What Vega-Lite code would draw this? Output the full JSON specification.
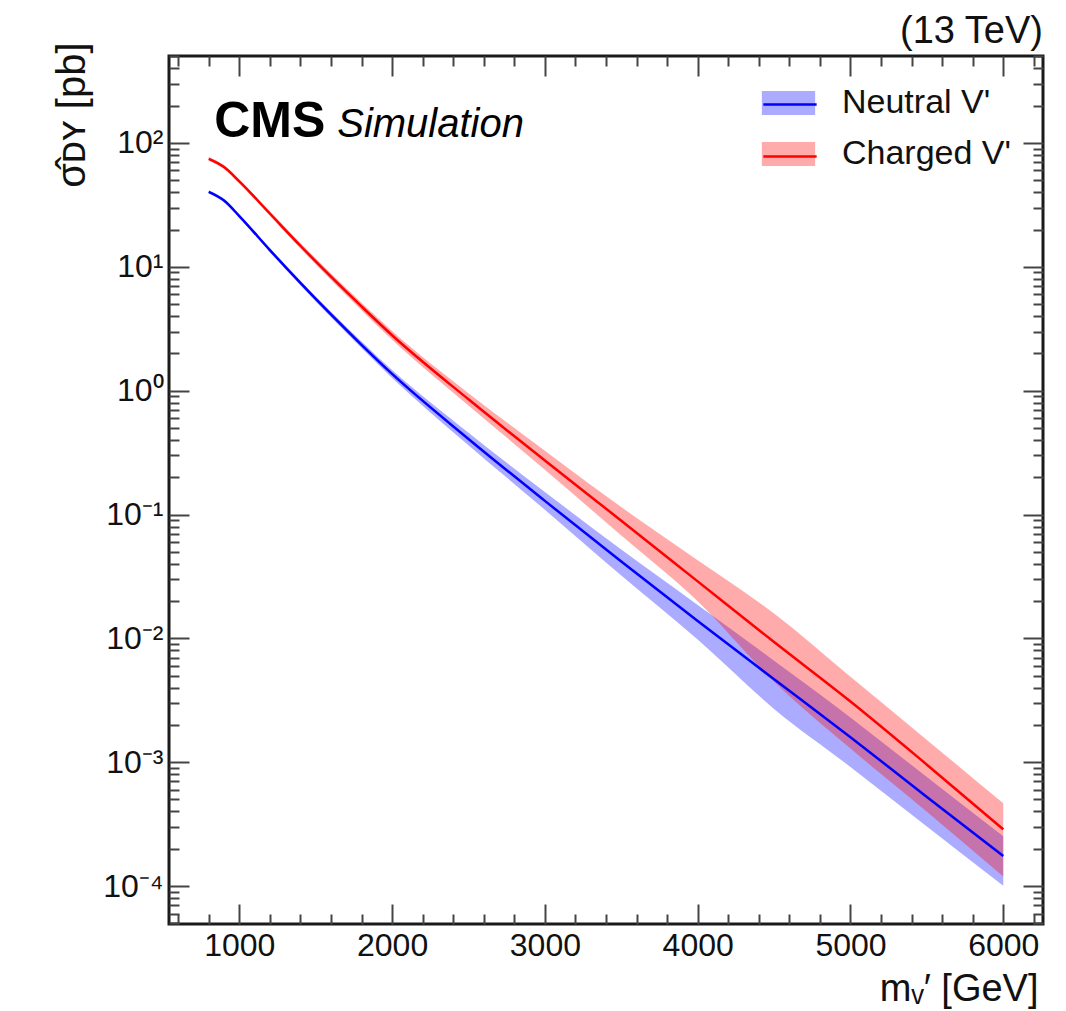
{
  "$schema": "https://vega.github.io/schema/vega-lite/v6.json",
  "width": 874,
  "height": 868,
  "autosize": {"type": "none"},
  "padding": {"left": 169, "top": 56, "right": 23, "bottom": 87},
  "background": "white",
  "config": {
    "font": "Liberation Sans",
    "view": {"stroke": "#1a1a1a", "strokeWidth": 3},
    "axis": {"grid": false, "domain": false, "labelColor": "#111", "titleColor": "#111", "tickColor": "#444", "tickWidth": 2, "labelFont": "Liberation Sans", "titleFont": "Liberation Sans"}
  },
  "title": {"text": "(13 TeV)", "anchor": "end", "frame": "group", "fontSize": 38, "fontWeight": "normal", "font": "Liberation Sans", "color": "#111", "baseline": "alphabetic", "offset": 11, "dy": 50},
  "data": {"values": [
    {"m": 800, "series": "Neutral V'", "xs": 40.27, "lo": 38.99, "hi": 41.59},
    {"m": 900, "series": "Neutral V'", "xs": 34.28, "lo": 33.19, "hi": 35.40},
    {"m": 1000, "series": "Neutral V'", "xs": 25.70, "lo": 24.89, "hi": 26.55},
    {"m": 1200, "series": "Neutral V'", "xs": 13.65, "lo": 13.15, "hi": 14.16},
    {"m": 1400, "series": "Neutral V'", "xs": 7.413, "lo": 7.112, "hi": 7.727},
    {"m": 1600, "series": "Neutral V'", "xs": 4.121, "lo": 3.917, "hi": 4.335},
    {"m": 1800, "series": "Neutral V'", "xs": 2.344, "lo": 2.208, "hi": 2.489},
    {"m": 2000, "series": "Neutral V'", "xs": 1.365, "lo": 1.268, "hi": 1.469},
    {"m": 2500, "series": "Neutral V'", "xs": 0.4074, "lo": 0.3631, "hi": 0.4571},
    {"m": 3000, "series": "Neutral V'", "xs": 0.1288, "lo": 0.1091, "hi": 0.1521},
    {"m": 3500, "series": "Neutral V'", "xs": 0.04169, "lo": 0.03214, "hi": 0.05212},
    {"m": 4000, "series": "Neutral V'", "xs": 0.0138, "lo": 0.009772, "hi": 0.01862},
    {"m": 4500, "series": "Neutral V'", "xs": 0.004677, "lo": 0.002692, "hi": 0.006607},
    {"m": 5000, "series": "Neutral V'", "xs": 0.001592, "lo": 0.000916, "hi": 0.002301},
    {"m": 5500, "series": "Neutral V'", "xs": 0.0005248, "lo": 0.000302, "hi": 0.0007586},
    {"m": 6000, "series": "Neutral V'", "xs": 0.0001746, "lo": 0.0001005, "hi": 0.0002523},
    {"m": 800, "series": "Charged V'", "xs": 74.30, "lo": 71.78, "hi": 76.91},
    {"m": 900, "series": "Charged V'", "xs": 63.83, "lo": 61.66, "hi": 66.07},
    {"m": 1000, "series": "Charged V'", "xs": 48.98, "lo": 47.32, "hi": 50.70},
    {"m": 1200, "series": "Charged V'", "xs": 26.93, "lo": 25.83, "hi": 28.07},
    {"m": 1400, "series": "Charged V'", "xs": 14.79, "lo": 14.06, "hi": 15.56},
    {"m": 1600, "series": "Charged V'", "xs": 8.318, "lo": 7.834, "hi": 8.831},
    {"m": 1800, "series": "Charged V'", "xs": 4.786, "lo": 4.467, "hi": 5.129},
    {"m": 2000, "series": "Charged V'", "xs": 2.799, "lo": 2.582, "hi": 3.034},
    {"m": 2500, "series": "Charged V'", "xs": 0.8511, "lo": 0.7586, "hi": 0.955},
    {"m": 3000, "series": "Charged V'", "xs": 0.2729, "lo": 0.2301, "hi": 0.3273},
    {"m": 3500, "series": "Charged V'", "xs": 0.08913, "lo": 0.06761, "hi": 0.1148},
    {"m": 4000, "series": "Charged V'", "xs": 0.02884, "lo": 0.01995, "hi": 0.04266},
    {"m": 4500, "series": "Charged V'", "xs": 0.009333, "lo": 0.004467, "hi": 0.01585},
    {"m": 5000, "series": "Charged V'", "xs": 0.00309, "lo": 0.001288, "hi": 0.004898},
    {"m": 5500, "series": "Charged V'", "xs": 0.000955, "lo": 0.0003981, "hi": 0.001514},
    {"m": 6000, "series": "Charged V'", "xs": 0.0002871, "lo": 0.0001197, "hi": 0.0004656}
  ]},
  "layer": [
    {
      "transform": [{"filter": "datum.series === \"Neutral V'\""}],
      "mark": {"type": "area", "fillOpacity": 0.33, "strokeWidth": 0, "interpolate": "monotone"},
      "encoding": {
        "x": {"field": "m", "type": "quantitative", "scale": {"domain": [540, 6260], "nice": false, "zero": false},
          "axis": {"orient": "bottom", "values": [1000, 2000, 3000, 4000, 5000, 6000], "format": "d", "ticks": false, "labelFontSize": 32, "labelPadding": 6, "labelFlush": false,
            "title": "mᵥ′ [GeV]", "titleFontSize": 38, "titleFontWeight": "normal", "titleAlign": "right", "titleBaseline": "alphabetic", "titleX": 869, "titleY": 76}},
        "y": {"field": "lo", "type": "quantitative", "scale": {"type": "log", "domain": [4.94e-5, 503.5], "nice": false},
          "axis": {"orient": "left", "values": [0.0001, 0.001, 0.01, 0.1, 1, 10, 100], "ticks": false, "labelFontSize": 32, "labelPadding": 6,
            "labelExpr": "'10' + replace(replace(replace(replace(replace(replace('' + round(log(datum.value)/LN10), '-', '⁻'), '0', '⁰'), '1', '¹'), '2', '²'), '3', '³'), '4', '⁴')",
            "title": "σ̂ᴅʏ [pb]", "titleFontSize": 40, "titleFontWeight": "normal", "titleAngle": 270, "titleAlign": "right", "titleBaseline": "alphabetic", "titleX": -85, "titleY": -14}},
        "y2": {"field": "hi"},
        "fill": {"field": "series", "type": "nominal",
          "scale": {"domain": ["Neutral V'", "Charged V'"], "range": ["#0000ff", "#ff0000"]},
          "legend": {"orient": "none", "legendX": 599, "legendY": 26.5, "title": null, "padding": 0,
            "symbolType": "M-1.3,-0.58H1.3V0.58H-1.3Z", "symbolSize": 1681, "symbolOpacity": 0.33, "symbolStrokeWidth": 0,
            "labelFont": "Liberation Sans", "labelFontSize": 34, "labelColor": "#111", "labelOffset": 33, "rowPadding": 13, "labelLimit": 400}}
      }
    },
    {
      "transform": [{"filter": "datum.series === \"Charged V'\""}],
      "mark": {"type": "area", "fillOpacity": 0.33, "strokeWidth": 0, "interpolate": "monotone"},
      "encoding": {
        "x": {"field": "m", "type": "quantitative",
          "axis": {"orient": "bottom", "values": [1000, 2000, 3000, 4000, 5000, 6000], "labels": false, "tickSize": -20, "title": null}},
        "y": {"field": "lo", "type": "quantitative",
          "axis": {"orient": "left", "values": [0.0001, 0.001, 0.01, 0.1, 1, 10, 100], "labels": false, "tickSize": -20, "title": null}},
        "y2": {"field": "hi"},
        "fill": {"field": "series", "type": "nominal"}
      }
    },
    {
      "mark": {"type": "line", "strokeWidth": 2.5, "interpolate": "monotone"},
      "encoding": {
        "x": {"field": "m", "type": "quantitative",
          "axis": {"orient": "bottom", "values": [600, 800, 1200, 1400, 1600, 1800, 2200, 2400, 2600, 2800, 3200, 3400, 3600, 3800, 4200, 4400, 4600, 4800, 5200, 5400, 5600, 5800, 6200], "labels": false, "tickSize": -10, "title": null}},
        "y": {"field": "xs", "type": "quantitative",
          "axis": {"orient": "left", "values": [0.00005, 0.00006, 0.00007, 0.00008, 0.00009, 0.0002, 0.0003, 0.0004, 0.0005, 0.0006, 0.0007, 0.0008, 0.0009, 0.002, 0.003, 0.004, 0.005, 0.006, 0.007, 0.008, 0.009, 0.02, 0.03, 0.04, 0.05, 0.06, 0.07, 0.08, 0.09, 0.2, 0.3, 0.4, 0.5, 0.6, 0.7, 0.8, 0.9, 2, 3, 4, 5, 6, 7, 8, 9, 20, 30, 40, 50, 60, 70, 80, 90, 200, 300, 400, 500], "labels": false, "tickSize": -10, "title": null}},
        "stroke": {"field": "series", "type": "nominal", "sort": "descending",
          "scale": {"range": ["#0000ff", "#ff0000"]},
          "legend": {"orient": "none", "legendX": 599, "legendY": 26.5, "title": null, "padding": 0,
            "symbolType": "M-1.3,0H1.3", "symbolSize": 1681, "symbolStrokeWidth": 2.5,
            "labelFont": "Liberation Sans", "labelFontSize": 34, "labelExpr": "''", "labelOffset": 33, "rowPadding": 13, "labelLimit": 400}},
        "detail": {"field": "series"}
      }
    },
    {
      "mark": {"type": "point", "opacity": 0},
      "encoding": {
        "x": {"field": "m", "type": "quantitative",
          "axis": {"orient": "top", "values": [1000, 2000, 3000, 4000, 5000, 6000], "labels": false, "tickSize": -20, "title": null}},
        "y": {"field": "xs", "type": "quantitative",
          "axis": {"orient": "right", "values": [0.0001, 0.001, 0.01, 0.1, 1, 10, 100], "labels": false, "tickSize": -20, "title": null}}
      }
    },
    {
      "mark": {"type": "point", "opacity": 0},
      "encoding": {
        "x": {"field": "m", "type": "quantitative",
          "axis": {"orient": "top", "values": [600, 800, 1200, 1400, 1600, 1800, 2200, 2400, 2600, 2800, 3200, 3400, 3600, 3800, 4200, 4400, 4600, 4800, 5200, 5400, 5600, 5800, 6200], "labels": false, "tickSize": -10, "title": null}},
        "y": {"field": "xs", "type": "quantitative",
          "axis": {"orient": "right", "values": [0.00005, 0.00006, 0.00007, 0.00008, 0.00009, 0.0002, 0.0003, 0.0004, 0.0005, 0.0006, 0.0007, 0.0008, 0.0009, 0.002, 0.003, 0.004, 0.005, 0.006, 0.007, 0.008, 0.009, 0.02, 0.03, 0.04, 0.05, 0.06, 0.07, 0.08, 0.09, 0.2, 0.3, 0.4, 0.5, 0.6, 0.7, 0.8, 0.9, 2, 3, 4, 5, 6, 7, 8, 9, 20, 30, 40, 50, 60, 70, 80, 90, 200, 300, 400, 500], "labels": false, "tickSize": -10, "title": null}}
      }
    },
    {
      "data": {"values": [{"label": "CMS"}]},
      "mark": {"type": "text", "font": "Liberation Sans", "fontSize": 50, "fontWeight": "bold", "align": "left", "baseline": "alphabetic", "color": "#000"},
      "encoding": {
        "x": {"datum": 836, "type": "quantitative", "axis": null},
        "y": {"datum": 112, "type": "quantitative", "axis": null},
        "text": {"field": "label"}
      }
    },
    {
      "data": {"values": [{"label": "Simulation"}]},
      "mark": {"type": "text", "font": "Liberation Sans", "fontSize": 40, "fontStyle": "italic", "align": "left", "baseline": "alphabetic", "color": "#000"},
      "encoding": {
        "x": {"datum": 1641, "type": "quantitative", "axis": null},
        "y": {"datum": 112, "type": "quantitative", "axis": null},
        "text": {"field": "label"}
      }
    }
  ],
  "resolve": {"axis": {"x": "independent", "y": "independent"}}
}
